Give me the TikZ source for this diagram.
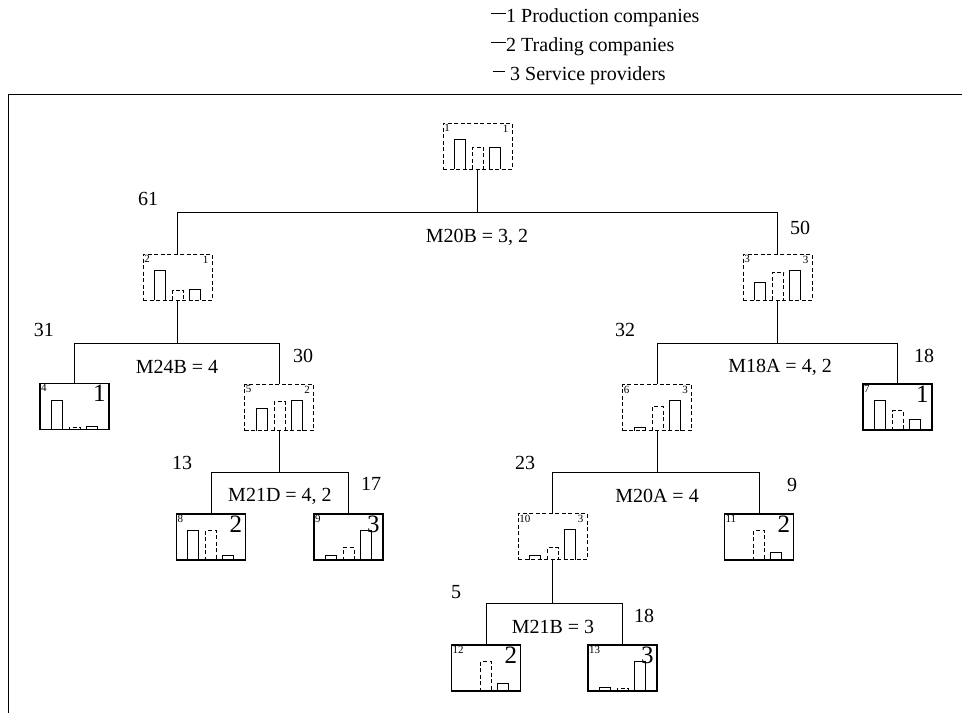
\documentclass[tikz,border=0pt]{standalone}
\usepackage{fontspec}
\setmainfont{Liberation Serif}
\tikzset{
  every node/.style={font=\fontsize{20}{22}\selectfont, inner sep=0pt},
  dbox/.style={draw, dash pattern=on 4pt off 2.5pt, line width=0.9pt, minimum width=69pt, minimum height=46pt, inner sep=0pt},
  sbox/.style={draw, line width=1.4pt, minimum width=69pt, minimum height=46pt, inner sep=0pt},
  dboxcls/.style={font=\fontsize{11}{12}\selectfont, anchor=north east},
  sboxcls/.style={font=\fontsize{25}{27}\selectfont, anchor=north east},
  idl/.style={font=\fontsize{11}{12}\selectfont, anchor=north west},
  sbar/.style={line width=1pt},
  dbar/.style={line width=1pt, dash pattern=on 4pt off 2.5pt},
  conn/.style={line width=0.8pt},
  cnt/.style={font=\fontsize{20}{22}\selectfont},
}
\newcommand\tbox[9]{%
  \node[#4] (#1) at (#2,#3) {};
  \node[idl] (#1id) at ([shift={(1.5pt,-1.5pt)}]#1.north west) {#5};
  \ifx#4dbox
    \node[#4cls] (#1cl) at ([shift={(-1.5pt,-1.5pt)}]#1.north east) {#6};
  \else
    \node[#4cls] (#1cl) at ([shift={(-4pt,-2pt)}]#1.north east) {#6};
  \fi
  \draw[sbar] ([xshift=12pt]#1.south west) -- ++(0pt,#7pt) -- ++(11pt,0pt) -- ++(0pt,-#7pt);
  \draw[dbar] ([xshift=30pt]#1.south west) -- ++(0pt,#8pt) -- ++(11pt,0pt) -- ++(0pt,-#8pt);
  \draw[sbar] ([xshift=47pt]#1.south west) -- ++(0pt,#9pt) -- ++(11pt,0pt) -- ++(0pt,-#9pt);
}
\begin{document}
\begin{tikzpicture}[x=1pt,y=-1pt]
\useasboundingbox (0,0) rectangle (962,713);
% outer frame
\coordinate (fa) at (962,94);
\coordinate (fb) at (8,94);
\coordinate (fc) at (8,713);
\draw[line width=0.8pt] (fa) -- (fb) -- (fc);
% legend
\coordinate (l1a) at (491,13); \coordinate (l1b) at (506,13);
\coordinate (l2a) at (491,42); \coordinate (l2b) at (506,42);
\coordinate (l3a) at (493,71); \coordinate (l3b) at (505,71);
\draw[line width=0.8pt] (l1a) -- (l1b);
\draw[line width=0.8pt] (l2a) -- (l2b);
\draw[line width=0.6pt] (l3a) -- (l3b);
\node[anchor=west] (lt1) at (506,18) {1 Production companies};
\node[anchor=west] (lt2) at (506,47) {2 Trading companies};
\node[anchor=west] (lt3) at (510,76) {3 Service providers};
% boxes
\tbox{n1}{477.5}{146}{dbox}{1}{1}{30}{22}{22}
\tbox{n2}{177.5}{277}{dbox}{2}{1}{30}{10}{11}
\tbox{n3}{777.5}{277}{dbox}{3}{3}{18}{28}{30}
\tbox{n4}{74.5}{406.5}{sbox}{4}{1}{30}{3}{4}
\tbox{n5}{279}{407.5}{dbox}{5}{2}{22}{29}{30}
\tbox{n6}{657}{407.5}{dbox}{6}{3}{3}{24}{30}
\tbox{n7}{897.5}{407}{sbox}{7}{1}{30}{20}{11}
\tbox{n8}{211}{537}{sbox}{8}{2}{30}{30}{5}
\tbox{n9}{348.5}{537}{sbox}{9}{3}{5}{13}{30}
\tbox{n10}{552.5}{536.5}{dbox}{10}{3}{4}{12}{30}
\tbox{n11}{759}{537}{sbox}{11}{2}{0}{30}{8}
\tbox{n12}{486}{668}{sbox}{12}{2}{0}{30}{8}
\tbox{n13}{622.5}{668}{sbox}{13}{3}{4}{3}{30}
% connectors
\coordinate (j1) at (477.5,212);
\draw[conn] (n1.south) -- (j1);
\draw[conn] (n2.north) -- (n2.north |- j1) -- (n3.north |- j1) -- (n3.north);
\coordinate (j2) at (177.5,343);
\draw[conn] (n2.south) -- (j2);
\draw[conn] (n4.north) -- (n4.north |- j2) -- (n5.north |- j2) -- (n5.north);
\coordinate (j3) at (777.5,343);
\draw[conn] (n3.south) -- (j3);
\draw[conn] (n6.north) -- (n6.north |- j3) -- (n7.north |- j3) -- (n7.north);
\coordinate (j4) at (279,472);
\draw[conn] (n5.south) -- (j4);
\draw[conn] (n8.north) -- (n8.north |- j4) -- (n9.north |- j4) -- (n9.north);
\coordinate (j5) at (657,472);
\draw[conn] (n6.south) -- (j5);
\draw[conn] (n10.north) -- (n10.north |- j5) -- (n11.north |- j5) -- (n11.north);
\coordinate (j6) at (552.5,603);
\draw[conn] (n10.south) -- (j6);
\draw[conn] (n12.north) -- (n12.north |- j6) -- (n13.north |- j6) -- (n13.north);
% split labels
\node (s1) at (477,237) {M20B = 3, 2};
\node (s2) at (177,367) {M24B = 4};
\node (s3) at (780,367) {M18A = 4, 2};
\node (s4) at (280,496) {M21D = 4, 2};
\node (s5) at (657,496) {M20A = 4};
\node (s6) at (553,627) {M21B = 3};
% counts
\node[cnt] (c61) at (148,199) {61};
\node[cnt] (c50) at (800,228) {50};
\node[cnt] (c31) at (44,330) {31};
\node[cnt] (c30) at (303,356) {30};
\node[cnt] (c32) at (625,330) {32};
\node[cnt] (c18a) at (924,356) {18};
\node[cnt] (c13) at (182,463) {13};
\node[cnt] (c17) at (371,484) {17};
\node[cnt] (c23) at (525,463) {23};
\node[cnt] (c9) at (792,485) {9};
\node[cnt] (c5) at (456,592) {5};
\node[cnt] (c18b) at (644,616) {18};
\end{tikzpicture}
\end{document}
